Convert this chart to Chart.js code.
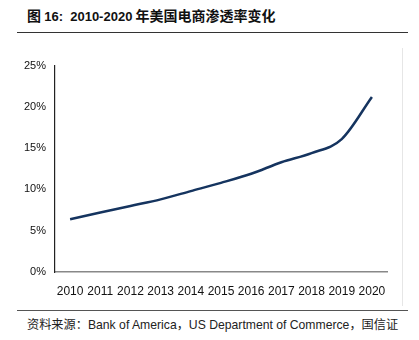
<!DOCTYPE html>
<html>
<head>
<meta charset="UTF-8">
<script src="https://cdn.jsdelivr.net/npm/chart.js@4.4.1/dist/chart.umd.min.js"></script>
<title>2010-2020 年美国电商渗透率变化</title>
<style>
  body { margin: 0; background: #fff; width: 419px; height: 340px; position: relative; overflow: hidden; }
  #title { position: absolute; left: 27px; top: 5px; font: bold 14px "Noto Sans CJK SC", sans-serif; color: #111; white-space: nowrap; }
  #title .num { font-family: "Liberation Sans", sans-serif; font-size: 13px; }
  #topRule { position: absolute; left: 17px; top: 32px; width: 391px; height: 0; border-top: 1.5px solid #333; }
  #frame { position: absolute; left: 402px; top: 48px; width: 0; height: 258px; border-left: 1px solid #e6e6e6; }
  #bottomRule { position: absolute; left: 17px; top: 310px; width: 391px; height: 0; border-top: 1.5px solid #555; }
  #source { position: absolute; left: 27px; top: 315px; font: 12.2px "Liberation Sans", Arial, "Noto Sans CJK SC", sans-serif; color: #222; white-space: nowrap; }
  #box { position: absolute; left: 0; top: 50px; width: 403px; height: 255px; }
</style>
</head>
<body>
<div id="title">图 <span class="num">16:&nbsp;&nbsp;2010-2020</span> 年美国电商渗透率变化</div>
<div id="topRule"></div>
<div id="frame"></div>
<div id="box"><canvas id="myChart"></canvas></div>
<div id="bottomRule"></div>
<div id="source">资料来源：Bank of America，US Department of Commerce，国信证</div>
<script>
const years = ['2010', '2011', '2012', '2013', '2014', '2015', '2016', '2017', '2018', '2019', '2020'];
// 电商渗透率 (%)
const penetration = [6.4, 7.2, 8.0, 8.8, 9.8, 10.8, 11.9, 13.3, 14.4, 16.1, 21.2];
const yTicks = [0, 5, 10, 15, 20, 25];

const ctx = document.getElementById('myChart').getContext('2d');
const myChart = new Chart(ctx, {
    type: 'line',
    data: {
        labels: years,
        datasets: [{
            data: penetration,
            borderColor: '#15345f',
            borderWidth: 2.5,
            pointRadius: 0,
            cubicInterpolationMode: 'monotone',
            fill: false
        }]
    },
    options: {
        responsive: true,
        maintainAspectRatio: false,
        animation: false,
        layout: { padding: { top: 15, right: 16, left: 0, bottom: 0 } },
        plugins: { legend: { display: false }, tooltip: { enabled: false } },
        scales: {
            x: {
                offset: true,
                grid: { display: false, drawTicks: false },
                border: { color: '#888', width: 1.5 },
                ticks: { color: '#111', padding: 12, maxRotation: 0, autoSkip: false, font: { family: 'Liberation Sans', size: 12 } },
                afterFit: function(scale) { scale.height = 33; }
            },
            y: {
                min: 0,
                max: 25,
                afterBuildTicks: function(scale) { scale.ticks = yTicks.map(v => ({ value: v })); },
                grid: { display: false, drawTicks: false },
                border: { color: '#222', width: 1.2 },
                ticks: {
                    color: '#111', padding: 9,
                    font: { family: 'Liberation Sans', size: 11 },
                    callback: function(v) { return v + '%'; }
                },
                afterFit: function(scale) { scale.width = 55; }
            }
        }
    }
});
</script>
</body>
</html>
